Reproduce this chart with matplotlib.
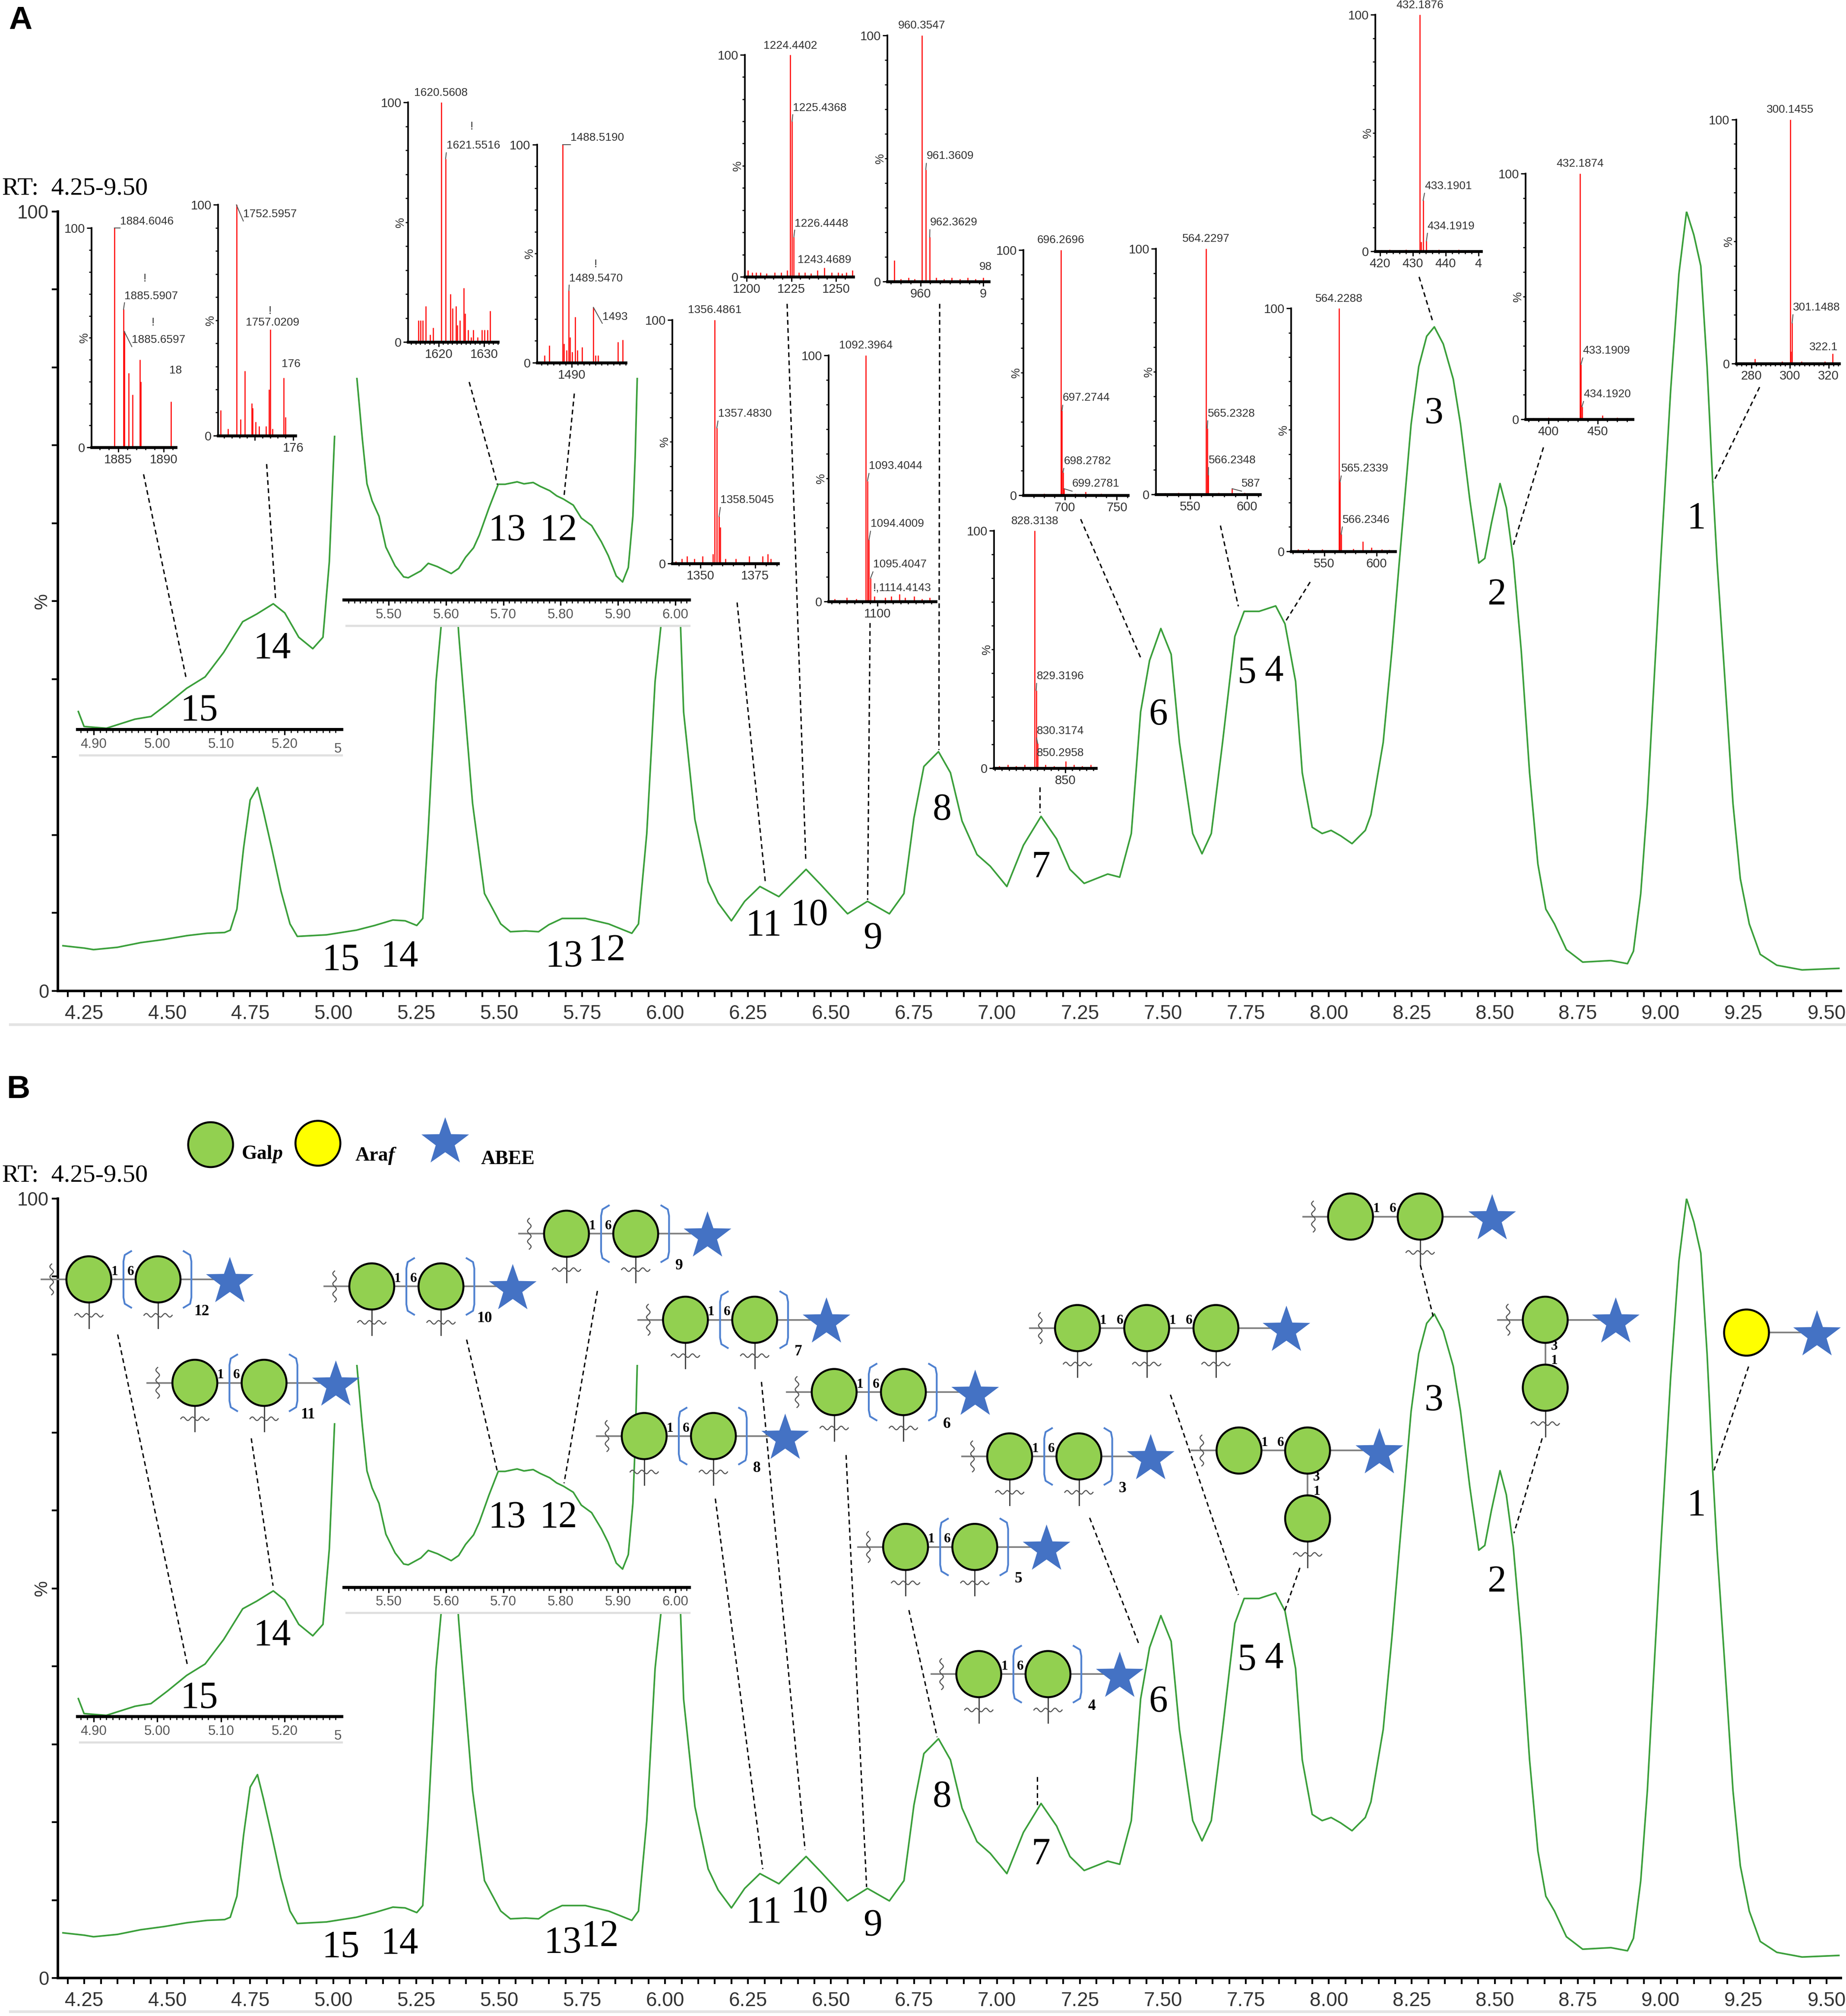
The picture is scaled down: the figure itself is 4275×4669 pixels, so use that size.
import numpy as np
import matplotlib
matplotlib.use('Agg')
import matplotlib.pyplot as plt
from matplotlib.patches import Ellipse, Polygon, Rectangle
from matplotlib.ticker import MultipleLocator
from matplotlib.transforms import offset_copy

plt.rcParams['font.family'] = 'Liberation Sans'

W, H = 1440.0, 1572.6          # layout grid (pixels of a 1440 px wide preview)
SERIF = 'Liberation Serif'
NARROW = ['Liberation Sans Narrow', 'Liberation Sans']
GREEN = '#3a9f3a'
GALP = '#92d050'
ARAF = '#ffff00'
BLUE = '#4472c4'

# ---------------- total ion chromatogram, RT 4.25-9.50 min (%)
rt = [4.186, 4.25, 4.278, 4.35, 4.42, 4.49, 4.56, 4.62, 4.673, 4.69,
      4.71, 4.73, 4.75, 4.772, 4.79, 4.815, 4.843, 4.87, 4.892, 4.98,
      5.07, 5.125, 5.18, 5.217, 5.252, 5.27, 5.286, 5.31, 5.33, 5.345,
      5.355, 5.365, 5.378, 5.39, 5.42, 5.456, 5.505, 5.534, 5.58, 5.619,
      5.65, 5.69, 5.76, 5.83, 5.90, 5.92, 5.945, 5.97, 5.993, 6.008,
      6.02, 6.032, 6.045, 6.056, 6.09, 6.13, 6.16, 6.20, 6.24, 6.286,
      6.343, 6.425, 6.47, 6.55, 6.61, 6.676, 6.72, 6.75, 6.78, 6.824,
      6.86, 6.895, 6.94, 6.98, 7.03, 7.08, 7.133, 7.18, 7.22, 7.263,
      7.334, 7.37, 7.405, 7.433, 7.46, 7.494, 7.525, 7.55, 7.59, 7.618,
      7.646, 7.68, 7.717, 7.745, 7.79, 7.84, 7.868, 7.90, 7.92, 7.95,
      7.98, 8.007, 8.036, 8.07, 8.11, 8.127, 8.164, 8.19, 8.213, 8.248,
      8.271, 8.295, 8.318, 8.345, 8.375, 8.397, 8.425, 8.452, 8.47, 8.49,
      8.516, 8.535, 8.556, 8.58, 8.605, 8.63, 8.654, 8.68, 8.716, 8.765,
      8.85, 8.90, 8.918, 8.94, 8.96, 8.98, 9.00, 9.03, 9.055, 9.078,
      9.10, 9.121, 9.14, 9.157, 9.17, 9.194, 9.218, 9.24, 9.267, 9.30,
      9.35, 9.426, 9.537]
tic = [5.8, 5.5, 5.3, 5.6, 6.2, 6.6, 7.1, 7.4, 7.5, 7.8,
       10.5, 18.3, 24.5, 26.1, 23.0, 18.3, 12.8, 8.6, 7.0, 7.2,
       7.8, 8.4, 9.1, 9.0, 8.4, 9.3, 20.2, 39.7, 49.0, 57.0,
       58.5, 55.0, 46.0, 39.7, 24.1, 12.5, 8.6, 7.6, 7.7, 7.6,
       8.5, 9.3, 9.3, 8.6, 7.4, 8.6, 20.2, 39.7, 49.0, 57.0,
       60.0, 57.0, 49.0, 35.8, 22.0, 14.0, 11.3, 9.0, 11.5, 13.4,
       12.1, 15.6, 13.6, 9.9, 11.5, 9.9, 12.5, 22.2, 28.8, 30.7,
       28.0, 21.8, 17.5, 16.0, 13.4, 18.7, 22.4, 19.5, 15.6, 13.8,
       15.0, 14.6, 20.2, 35.8, 42.4, 46.5, 43.2, 31.9, 20.2, 17.6,
       20.2, 31.9, 45.5, 48.7, 48.7, 49.4, 47.1, 39.7, 28.0, 21.0,
       20.2, 20.6, 19.9, 18.9, 20.6, 22.6, 31.9, 43.6, 55.3, 72.7,
       80.1, 84.0, 85.2, 83.0, 78.5, 72.7, 63.0, 54.9, 55.5, 60.0,
       65.1, 62.0, 55.3, 43.6, 28.0, 16.3, 10.5, 8.6, 5.3, 3.7,
       3.9, 3.5, 5.1, 12.5, 24.1, 39.7, 55.0, 77.0, 92.0, 100.0,
       97.0, 93.0, 80.0, 65.0, 55.0, 39.7, 24.0, 14.4, 8.6, 4.7,
       3.3, 2.7, 2.9]

# zoomed traces of the insets (own vertical scale)
zoom1_rt = [4.876, 4.885, 4.92, 4.965, 4.99, 5.016, 5.046, 5.075, 5.104, 5.134,
            5.156, 5.182, 5.20, 5.222, 5.244, 5.26, 5.27, 5.279]
zoom1_val = [6.1, 1.0, 0.4, 3.5, 4.4, 8.7, 14.0, 17.9, 26.2, 36.7,
             39.3, 42.8, 39.7, 31.4, 27.5, 31.4, 57.2, 104]
zoom2_rt = [5.443, 5.454, 5.462, 5.471, 5.483, 5.495, 5.511, 5.526, 5.534, 5.556,
            5.569, 5.585, 5.609, 5.622, 5.634, 5.648, 5.658, 5.675, 5.691, 5.703,
            5.724, 5.736, 5.752, 5.764, 5.781, 5.793, 5.805, 5.822, 5.836, 5.854,
            5.871, 5.883, 5.897, 5.908, 5.918, 5.926, 5.930, 5.934]
zoom2_val = [104, 72.3, 52.3, 44.6, 37.7, 23.8, 15.4, 10.4, 10.0, 13.1,
             16.5, 15.0, 11.9, 14.2, 19.2, 23.5, 29.2, 41.5, 52.1, 52.1,
             53.2, 52.3, 52.9, 51.2, 49.2, 46.9, 45.4, 42.7, 36.9, 33.5,
             26.2, 20.0, 10.8, 8.1, 14.6, 37.7, 64.6, 104]

peak_ids = ['15', '14', '13', '12', '11', '10', '9', '8', '7', '6', '5', '4', '3', '2', '1']
zoom_ids = ['15', '14', '13', '12']

# ---------------- mass spectra of the peaks (m/z, relative intensity)
ms15_mz = [1884.60, 1885.59, 1885.66, 1886.14, 1886.59, 1887.41, 1887.50, 1890.77]
ms15_int = [100, 63, 53, 34, 24, 40, 30, 21]
ms15_notes = [('1884.6046', 1885.2, 103, 'left', (1884.6, 100)), ('!', 1887.9, 77, 'center', None),
              ('1885.5907', 1885.7, 69, 'left', (1885.59, 63)), ('!', 1888.8, 57, 'center', None),
              ('1885.6597', 1886.5, 49, 'left', (1885.66, 53)), ('18', 1890.6, 35, 'left', None)]

ms14_mz = [1750.55, 1751.52, 1752.60, 1753.14, 1753.68, 1754.60, 1754.70, 1755.13,
           1755.56, 1756.48, 1756.86, 1757.02, 1757.30, 1758.80, 1759.00]
ms14_int = [11, 3, 100, 7, 28, 14, 12, 6, 4, 4, 20, 46, 3, 25, 8]
ms14_notes = [('1752.5957', 1753.5, 96, 'left', (1752.6, 100)), ('!', 1757.0, 54, 'center', None),
              ('1757.0209', 1753.8, 49, 'left', None), ('176', 1758.5, 31, 'left', None)]

ms13_mz = [1615.6, 1616.1, 1616.5, 1617.2, 1618.1, 1618.8, 1620.56, 1621.55, 1622.6, 1623.1,
           1623.8, 1624.1, 1624.7, 1625.5, 1625.8, 1626.5, 1627.1, 1627.6, 1628.6, 1629.5,
           1630.1, 1630.7, 1631.3]
ms13_int = [9, 9, 9, 15, 3, 6, 100, 76.5, 20, 14, 15, 7, 9, 22.5, 12, 5, 2, 5, 2, 5, 5, 5, 13]
ms13_notes = [('1620.5608', 1620.56, 104, 'center', None), ('!', 1627.3, 90, 'center', None),
              ('1621.5516', 1621.7, 82, 'left', (1621.55, 76.5))]

ms12_mz = [1485.48, 1486.3, 1488.52, 1488.7, 1489.18, 1489.55, 1489.73, 1490.07,
           1490.6, 1490.96, 1491.78, 1493.63, 1493.97, 1494.38, 1497.7, 1498.5]
ms12_int = [3.3, 7.9, 100, 8.6, 5.6, 33, 11.7, 4.8, 21, 5.6, 7.1, 25.3, 3.3, 3.3, 9.4, 10.5]
ms12_notes = [('1488.5190', 1489.8, 103, 'left', (1488.52, 100)), ('!', 1494.0, 45, 'center', None),
              ('1489.5470', 1489.6, 38.5, 'left', (1489.55, 33)), ('1493', 1495.1, 21, 'left', (1493.63, 25.3))]

ms11_mz = [1338.6, 1341.5, 1343.9, 1347.1, 1351.0, 1355.7, 1356.49, 1357.48,
           1358.5, 1359.0, 1361.4, 1366.1, 1372.3, 1378.4, 1380.9, 1382.2]
ms11_int = [1, 2, 3, 2, 3, 4, 100, 55.7, 19.3, 15, 2, 2, 3, 3, 4, 2]
ms11_notes = [('1356.4861', 1356.49, 104, 'center', None),
              ('1357.4830', 1358.0, 61.5, 'left', (1357.48, 55.7)),
              ('1358.5045', 1359.1, 26, 'left', (1358.5, 19.3))]

ms10_mz = [1200.7, 1203.0, 1205.3, 1207.6, 1211.1, 1215.7, 1219.2, 1222.7, 1224.44, 1225.44,
           1226.44, 1229.2, 1232.6, 1236.1, 1239.6, 1243.47, 1247.7, 1251.2, 1253.5, 1255.8, 1259.3]
ms10_int = [3, 2, 2, 2, 1.5, 2, 2, 3, 100, 70, 17.9, 2, 2, 1.5, 3, 4, 2, 2, 1.5, 2, 3]
ms10_notes = [('1224.4402', 1224.44, 104, 'center', None),
              ('1225.4368', 1225.8, 76, 'left', (1225.44, 70)),
              ('1226.4448', 1226.9, 24, 'left', (1226.44, 17.9)),
              ('1243.4689', 1228.5, 7.5, 'left', None)]

ms9_mz = [1072, 1080, 1086, 1092.40, 1093.40, 1094.40, 1095.40, 1098, 1105, 1109,
          1114.41, 1118, 1124, 1129, 1134]
ms9_int = [1, 1.5, 1, 100, 49, 25, 9.4, 2, 1.5, 2, 3, 1.5, 2, 1, 1.5]
ms9_notes = [('1092.3964', 1092.4, 104, 'center', None),
             ('1093.4044', 1094.4, 55, 'left', (1093.4, 49)),
             ('1094.4009', 1095.4, 31.5, 'left', (1094.4, 25)),
             ('1095.4047', 1097.0, 15, 'left', (1095.4, 9.4)),
             ('!,1114.4143', 1097.0, 5.5, 'left', None)]

ms8_mz = [953.3, 955, 957, 958.5, 960.35, 961.36, 962.36, 964, 966, 968, 970, 972, 974, 976]
ms8_int = [8.6, 1, 1.5, 1, 100, 45.5, 18, 1.5, 1, 1.5, 1, 1.5, 1, 1.5]
ms8_notes = [('960.3547', 960.35, 104, 'center', None),
             ('961.3609', 961.5, 51, 'left', (961.36, 45.5)),
             ('962.3629', 962.4, 24, 'left', (962.36, 18)),
             ('98', 975.0, 6, 'left', None)]

ms7_mz = [803, 809, 815, 821, 828.31, 829.32, 830.32, 836, 842, 850.30, 856, 862, 868]
ms7_int = [1, 1.5, 1, 1.5, 100, 32.8, 10.4, 1.5, 1, 2.9, 1.5, 1, 1.5]
ms7_notes = [('828.3138', 828.31, 104, 'center', None),
             ('829.3196', 829.6, 38.7, 'left', (829.32, 32.8)),
             ('830.3174', 829.6, 15.7, 'left', (830.32, 10.4)),
             ('850.2958', 829.6, 6.4, 'left', None)]

ms6_mz = [668, 680, 690, 696.27, 697.27, 698.28, 699.28, 710, 720, 735, 748]
ms6_int = [0.5, 0.8, 0.5, 100, 34.5, 9.4, 2.7, 0.8, 1.5, 0.8, 0.6]
ms6_notes = [('696.2696', 696.27, 104, 'center', None),
             ('697.2744', 698.0, 39.7, 'left', (697.27, 34.5)),
             ('698.2782', 699.0, 14, 'left', (698.28, 9.4)),
             ('699.2781', 707.0, 4.7, 'left', (699.28, 2.7))]

ms5_mz = [528, 540, 552, 564.23, 565.23, 566.23, 575, 587, 598, 606]
ms5_int = [0.6, 0.8, 0.6, 100, 27, 8, 0.8, 2.4, 0.8, 0.5]
ms5_notes = [('564.2297', 564.23, 104, 'center', None),
             ('565.2328', 565.6, 33, 'left', (565.23, 27)),
             ('566.2348', 566.3, 14, 'left', (566.23, 8)),
             ('587', 595.3, 4.4, 'left', (587, 2.4))]

ms4_mz = [525, 535, 548, 564.23, 565.23, 566.23, 578, 587, 595, 605, 612]
ms4_int = [0.8, 1, 0.8, 100, 28.6, 7, 1, 4, 1.5, 0.8, 0.6]
ms4_notes = [('564.2288', 564.23, 104, 'center', None),
             ('565.2339', 566.3, 34, 'left', (565.23, 28.6)),
             ('566.2346', 567.4, 13, 'left', (566.23, 7))]

ms3_mz = [420.5, 423, 426, 428, 432.19, 432.5, 433.19, 434.19, 436, 438, 441, 444, 447]
ms3_int = [0.5, 0.8, 0.5, 0.8, 100, 4, 21.5, 4.4, 0.5, 0.8, 0.5, 0.8, 0.5]
ms3_notes = [('432.1876', 432.19, 104, 'center', None),
             ('433.1901', 433.6, 27.5, 'left', (433.19, 21.5)),
             ('434.1919', 434.5, 10.6, 'left', (434.19, 4.4))]

ms2_mz = [385, 400, 415, 432.19, 433.19, 434.19, 455, 470, 480]
ms2_int = [0.6, 0.8, 0.6, 100, 22.4, 5.2, 1.6, 0.8, 0.6]
ms2_notes = [('432.1874', 432.19, 104, 'center', None),
             ('433.1909', 435.0, 28, 'left', (433.19, 22.4)),
             ('434.1920', 435.8, 10.3, 'left', (434.19, 5.2))]

ms1_mz = [276, 282, 290, 296, 300.15, 300.4, 301.15, 306, 312, 318, 322.1]
ms1_int = [0.6, 2, 0.6, 0.8, 100, 5, 16.6, 0.8, 0.6, 0.8, 4]
ms1_notes = [('300.1455', 300.15, 104, 'center', None),
             ('301.1488', 301.6, 23, 'left', (301.15, 16.6)),
             ('322.1', 310.0, 6.8, 'left', None)]

# glycan structures: Galp-(1-6)-[Galp]n-ABEE  (repeat number n)
chain_n = [12, 11, 10, 9, 8, 7, 6, 5, 4, 3]


def rect(x0, y0, x1, y1):
    return [x0 / W, 1 - y1 / H, (x1 - x0) / W, (y1 - y0) / H]


fig = plt.figure(figsize=(4275 / 300, 4669 / 300), dpi=300)
ov = fig.add_axes([0, 0, 1, 1], zorder=5)
ov.set_xlim(0, W)
ov.set_ylim(H, 0)
ov.axis('off')


def chromatogram(top):
    ax = fig.add_axes(rect(45, top, 1436, top + 608), zorder=1)
    ax.plot(rt, tic, color=GREEN, lw=0.9)
    ax.set_xlim(4.17, 9.543)
    ax.set_ylim(0, 100)
    ax.spines[['top', 'right']].set_visible(False)
    ax.spines[['left', 'bottom']].set_linewidth(1.4)
    ticks = np.arange(4.25, 9.51, 0.25)
    ax.set_xticks(ticks, [f'{v:.2f}' for v in ticks])
    ax.xaxis.set_minor_locator(MultipleLocator(0.05))
    ax.set_yticks([0, 100])
    ax.yaxis.set_minor_locator(MultipleLocator(10))
    ax.tick_params(which='both', length=3.4, width=1.0)
    ax.tick_params(axis='x', pad=4, labelsize=11, labelcolor='#333')
    ax.tick_params(axis='y', pad=1.5, labelsize=10.5, labelcolor='#333')
    ax.text(0, 0.5, '%', rotation=90, ha='center', va='center', fontsize=10, color='#333',
            transform=offset_copy(ax.transAxes, fig=fig, x=-8.6, y=0, units='points'))
    ov.plot([8, 1440], [top + 634.4, top + 634.4], color='#e3e3e3', lw=1.5)
    return ax


def zoom_trace(box, t, val, xlim, first, last, tail):
    left, top, right, base = box
    fig.add_artist(Rectangle((left / W, 1 - (base + 21) / H), (right - left) / W, (base + 21 - top) / H,
                             transform=fig.transFigure, fc='white', ec='none', zorder=1.5))
    ax = fig.add_axes(rect(left, top, right, base), zorder=2)
    ax.patch.set_visible(False)
    ax.plot(t, val, color=GREEN, lw=0.9)
    ax.set_xlim(*xlim)
    ax.set_ylim(0, 100)
    ax.spines[['top', 'right', 'left']].set_visible(False)
    ax.spines['bottom'].set_linewidth(1.7)
    ax.set_yticks([])
    ticks = np.arange(first, last + 0.001, 0.1)
    ax.set_xticks(ticks, [f'{v:.2f}' for v in ticks])
    ax.xaxis.set_minor_locator(MultipleLocator(0.01))
    ax.tick_params(axis='x', which='major', length=3.2, width=0.8, pad=1.5, labelsize=7.5, labelcolor='#555')
    ax.tick_params(axis='x', which='minor', length=1.8, width=0.6)
    if tail:
        ax.text(1.0, -0.045, tail, transform=ax.transAxes, ha='right', va='top', fontsize=7.5, color='#555')
    ov.plot([left + 2, right], [base + 20, base + 20], color='#e0e0e0', lw=1.2)


def mass_spec(mz, inten, notes, box, xlim, major, labels, minor):
    left, top, right, base = box
    ax = fig.add_axes(rect(left, top, right, base), zorder=2)
    ax.patch.set_visible(False)
    ax.vlines(mz, 0, inten, color='red', lw=0.6)
    ax.set_xlim(*xlim)
    ax.set_ylim(0, 100)
    ax.spines[['top', 'right']].set_visible(False)
    ax.spines['left'].set_linewidth(0.9)
    ax.spines['bottom'].set_linewidth(1.6)
    ax.set_xticks(major, labels if labels else [str(v) for v in major])
    ax.xaxis.set_minor_locator(MultipleLocator(minor))
    ax.set_yticks([0, 100], ['0', '100'])
    ax.yaxis.set_minor_locator(MultipleLocator(10))
    ax.tick_params(which='major', length=2.6, width=0.7, pad=1, labelsize=7,
                   labelcolor='#333', labelfontfamily=NARROW)
    ax.tick_params(which='minor', length=1.5, width=0.6)
    ax.text(0, 0.5, '%', rotation=90, ha='center', va='center', fontsize=6.5, color='#333', family=NARROW,
            transform=offset_copy(ax.transAxes, fig=fig, x=-4, y=0, units='points'))
    for text, x, y, ha, lead in notes:
        ax.text(x, y, text, ha=ha, va='center', fontsize=6.3, family=NARROW, color='#333')
        if lead:
            ax.plot([lead[0], x], [lead[1], y - 3], color='#555', lw=0.5, clip_on=False)


# ---------------- glycan drawing helpers (overlay, pixel grid)
def residue(x, y, color=GALP, w=35, h=36):
    ov.add_patch(Ellipse((x, y), w, h, fc=color, ec='black', lw=1.1, zorder=4))


def abee(x, y, r=19.5):
    k = np.arange(10)
    a = np.deg2rad(-90 + 36 * k)
    rr = np.where(k % 2 == 0, r, 0.4 * r)
    ov.add_patch(Polygon(np.c_[x + rr * np.cos(a), y + rr * np.sin(a)], closed=True,
                         fc=BLUE, ec='none', zorder=4))


def bond(x0, y0, x1, y1):
    ov.plot([x0, x1], [y0, y1], color='#7f7f7f', lw=0.9, zorder=3)


def wave(xc, yc, half, vertical=False):
    s = np.linspace(-half, half, 40)
    d = 1.4 * np.sin(s / half * 3 * np.pi)
    if vertical:
        ov.plot(xc + d, yc + s, color='#555', lw=0.6, zorder=3)
    else:
        ov.plot(xc + s, yc + d, color='#555', lw=0.6, zorder=3)


def stem(x, y):
    ov.plot([x, x], [y + 18, y + 38], color='#444', lw=0.7, zorder=3)
    wave(x, y + 28, 11)


def stub(x, y):
    bond(x - 37, y, x - 17, y)
    wave(x - 29, y, 12, vertical=True)


def bracket(x, y, side):
    ys = np.array([-22, -19, -14, 14, 19, 22])
    xs = np.array([6, 1, 0, 0, 1, 6]) * (-side)
    ov.plot(x + xs, y + ys, color='#4f81d0', lw=1.0, zorder=3)


def tag(x, y, s, size=7.5):
    ov.text(x, y, s, fontsize=size, fontweight='bold', family=SERIF, ha='center', va='center', zorder=4)


def repeat_chain(x, y, n):
    x2, xs = x + 54, x + 110
    stub(x, y)
    bond(x, y, xs, y)
    for cx in (x, x2):
        stem(cx, y)
        residue(cx, y)
    bracket(x2 - 27, y, -1)
    bracket(x2 + 26, y, 1)
    tag(x + 20, y - 6, '1')
    tag(x2 - 21.5, y - 6, '6')
    tag(x2 + 34, y + 25, str(n), 8.5)
    abee(xs, y + 2)


def linear_tri(x, y):
    cs = [x, x + 54, x + 108]
    stub(x, y)
    bond(x, y, x + 163, y)
    for cx in cs:
        stem(cx, y)
        residue(cx, y)
    for cx in cs[:2]:
        tag(cx + 20, y - 6, '1')
        tag(cx + 33, y - 6, '6')
    abee(x + 163, y + 2)


def branched(x, y):
    x2 = x + 53.5
    stub(x, y)
    bond(x, y, x + 109.5, y)
    bond(x2, y, x2, y + 53)
    stem(x2, y + 53)
    residue(x, y)
    residue(x2, y)
    residue(x2, y + 53)
    tag(x + 20, y - 6, '1')
    tag(x2 - 21, y - 6, '6')
    tag(x2 + 7, y + 21, '3')
    tag(x2 + 7, y + 32, '1')
    abee(x + 109.5, y + 2)


def di_16(x, y):
    stub(x, y)
    bond(x, y, x + 110.5, y)
    stem(x + 54.3, y)
    residue(x, y)
    residue(x + 54.3, y)
    tag(x + 20, y - 6, '1')
    tag(x + 33, y - 6, '6')
    abee(x + 110.5, y + 2)


def di_13(x, y):
    stub(x, y)
    bond(x, y, x + 55, y)
    bond(x, y, x, y + 53)
    stem(x, y + 53)
    residue(x, y)
    residue(x, y + 53)
    tag(x + 7, y + 21, '3')
    tag(x + 7, y + 32, '1')
    abee(x + 55, y + 2)


def araf(x, y):
    bond(x, y, x + 55, y)
    residue(x, y, ARAF)
    abee(x + 55, y + 2)


def dashed(segments):
    for (x0, y0), (x1, y1) in segments:
        ov.plot([x0, x1], [y0, y1], color='black', lw=0.75, ls=(0, (3.5, 2.5)), zorder=3)


def peak_labels(ids, pos, size=21):
    for s, (x, y) in zip(ids, pos):
        ov.text(x, y + 10, s, family=SERIF, fontsize=size, ha='center', va='baseline', zorder=4)


# ---------------- panel A and B: chromatograms + zoom insets
for top in (165, 935):
    chromatogram(top)
    d = top - 165
    zoom_trace((60.3, 340 + d, 266.6, 569 + d), zoom1_rt, zoom1_val, (4.8744, 5.2895), 4.9, 5.2, '5')
    zoom_trace((268.2, 294.8 + d, 537.5, 468 + d), zoom2_rt, zoom2_val, (5.4216, 6.024), 5.5, 6.0, None)
    ov.text(1.6, 147 + d, 'RT:  4.25-9.50', family=SERIF, fontsize=14, ha='left', va='center')

ov.text(16, 16, 'A', fontsize=18, fontweight='bold', ha='center', va='center')
ov.text(14.5, 850, 'B', fontsize=18, fontweight='bold', ha='center', va='center')

# ---------------- panel A: mass spectra
spectra = [
    (ms15_mz, ms15_int, ms15_notes, (71.5, 178, 137, 349), (1882.1, 1891.3), [1885, 1890], None, 1),
    (ms14_mz, ms14_int, ms14_notes, (170.1, 159.8, 230.4, 339.8), (1750.2, 1760.3), [1755, 1760], ['', '176'], 1),
    (ms13_mz, ms13_int, ms13_notes, (318.3, 79.9, 388.3, 266.8), (1613.3, 1633), [1620, 1630], None, 1),
    (ms12_mz, ms12_int, ms12_notes, (418.9, 112.7, 488.1, 282.8), (1484.25, 1499), [1490], None, 1),
    (ms11_mz, ms11_int, ms11_notes, (524.5, 249.6, 607, 439.6), (1337.1, 1385.6), [1350, 1375], None, 5),
    (ms10_mz, ms10_int, ms10_notes, (581.2, 42.7, 665.6, 215.9), (1199.1, 1259.7), [1200, 1225, 1250], None, 5),
    (ms9_mz, ms9_int, ms9_notes, (646.3, 277.2, 730, 469.1), (1068, 1138), [1100], None, 5),
    (ms8_mz, ms8_int, ms8_notes, (692.3, 27.7, 771.3, 219.5), (951.6, 977.4), [960, 976], ['960', '9'], 2.5),
    (ms7_mz, ms7_int, ms7_notes, (775.5, 414, 855, 599.2), (799.4, 871.9), [850], None, 5),
    (ms6_mz, ms6_int, ms6_notes, (798.4, 194.9, 879.9, 386.4), (660.3, 760.7), [700, 750], None, 10),
    (ms5_mz, ms5_int, ms5_notes, (901.8, 194, 983, 385.8), (520.3, 611.6), [550, 600], None, 10),
    (ms4_mz, ms4_int, ms4_notes, (1007.2, 240.6, 1088.5, 430), (518.5, 618), [550, 600], None, 10),
    (ms3_mz, ms3_int, ms3_notes, (1072.8, 11.4, 1155.5, 196), (418.6, 450.9), [420, 430, 440, 450],
     ['420', '430', '440', '4'], 2),
    (ms2_mz, ms2_int, ms2_notes, (1190, 135.3, 1273.7, 327.2), (376.9, 485.8), [400, 450], None, 10),
    (ms1_mz, ms1_int, ms1_notes, (1354.3, 93.2, 1434.7, 283.6), (272.2, 325.5), [280, 300, 320], None, 2.5),
]
for spec in spectra:
    mass_spec(*spec)

dashed([((112, 370), (145, 528)), ((208, 362), (215, 468)), ((366, 298), (388, 378)),
        ((448, 307), (440, 387)), ((575, 470), (597, 688)), ((614, 237), (628.6, 672)),
        ((678.7, 486), (676.8, 702)), ((733, 237), (732.4, 585)), ((811, 614), (811, 634)),
        ((843, 405), (890.5, 514.7)), ((952, 410), (966, 473)), ((1022, 454), (1002, 486)),
        ((1107, 216), (1118, 252)), ((1204, 349), (1180, 427)), ((1372.6, 302), (1336.6, 376))])

pos_a = [(265.7, 746.3), (311.5, 743.9), (440, 743.9), (473.3, 739.2), (595.6, 719.5),
         (631.2, 711.2), (680.9, 729.6), (734.9, 629.2), (812, 673.9), (903.3, 555.3),
         (972.6, 522.2), (993.8, 521), (1118.3, 320.2), (1167.6, 461.6), (1323, 402)]
zpos_a = [(155.2, 551.8), (212.2, 503.4), (395.5, 411.4), (435.6, 411.4)]
peak_labels(peak_ids, pos_a)
peak_labels(zoom_ids, zpos_a)

# ---------------- panel B: structures
pos_b = [(x, y + 770) for x, y in pos_a]
pos_b[2], pos_b[3] = (439, 1513), (468, 1508)
peak_labels(peak_ids, pos_b)
peak_labels(zoom_ids, [(x, y + 770) for x, y in zpos_a])

chain_xy = [(69.3, 998), (152, 1078.7), (290, 1003.5), (441.9, 962.4), (502.5, 1120.2),
            (534.7, 1029.5), (650.7, 1085.9), (706.4, 1206.7), (763.5, 1305.9), (787.6, 1136.1)]
for n, (x, y) in zip(chain_n, chain_xy):
    repeat_chain(x, y, n)
linear_tri(840.5, 1036)
branched(966.5, 1131.5)
di_16(1053.5, 949)
di_13(1205.4, 1029.5)
araf(1362.4, 1039.5)

dashed([((91.8, 1041), (146, 1298)), ((196, 1122), (213, 1237)), ((364, 1045), (388, 1148)),
        ((466, 1007), (440, 1157)), ((558, 1169), (595, 1458)), ((594, 1078), (628, 1443)),
        ((660, 1135), (676, 1472)), ((709, 1256), (731, 1355)), ((850, 1184), (889, 1284)),
        ((809, 1386), (809, 1408)), ((913, 1088), (966, 1244)), ((1014, 1223), (1002, 1257)),
        ((1108, 987), (1118, 1027)), ((1203, 1122), (1181, 1196)), ((1364, 1066), (1337, 1147))])

# legend
residue(164.3, 892.9, GALP, 35, 35)
residue(248, 891.8, ARAF, 35, 35)
abee(347.3, 891)


def legend_label(x, y, head, tail):
    t = ov.text(x, y, head, family=SERIF, fontsize=11, fontweight='bold', ha='left', va='baseline')
    if tail:
        ov.annotate(tail, xy=(1, 0), xycoords=t, family=SERIF, fontsize=11, fontweight='bold',
                    fontstyle='italic', ha='left', va='bottom')


legend_label(188.5, 904, 'Gal', 'p')
legend_label(277, 905.5, 'Ara', 'f')
legend_label(375, 908, 'ABEE', None)

fig.savefig('out.png', dpi=300)
